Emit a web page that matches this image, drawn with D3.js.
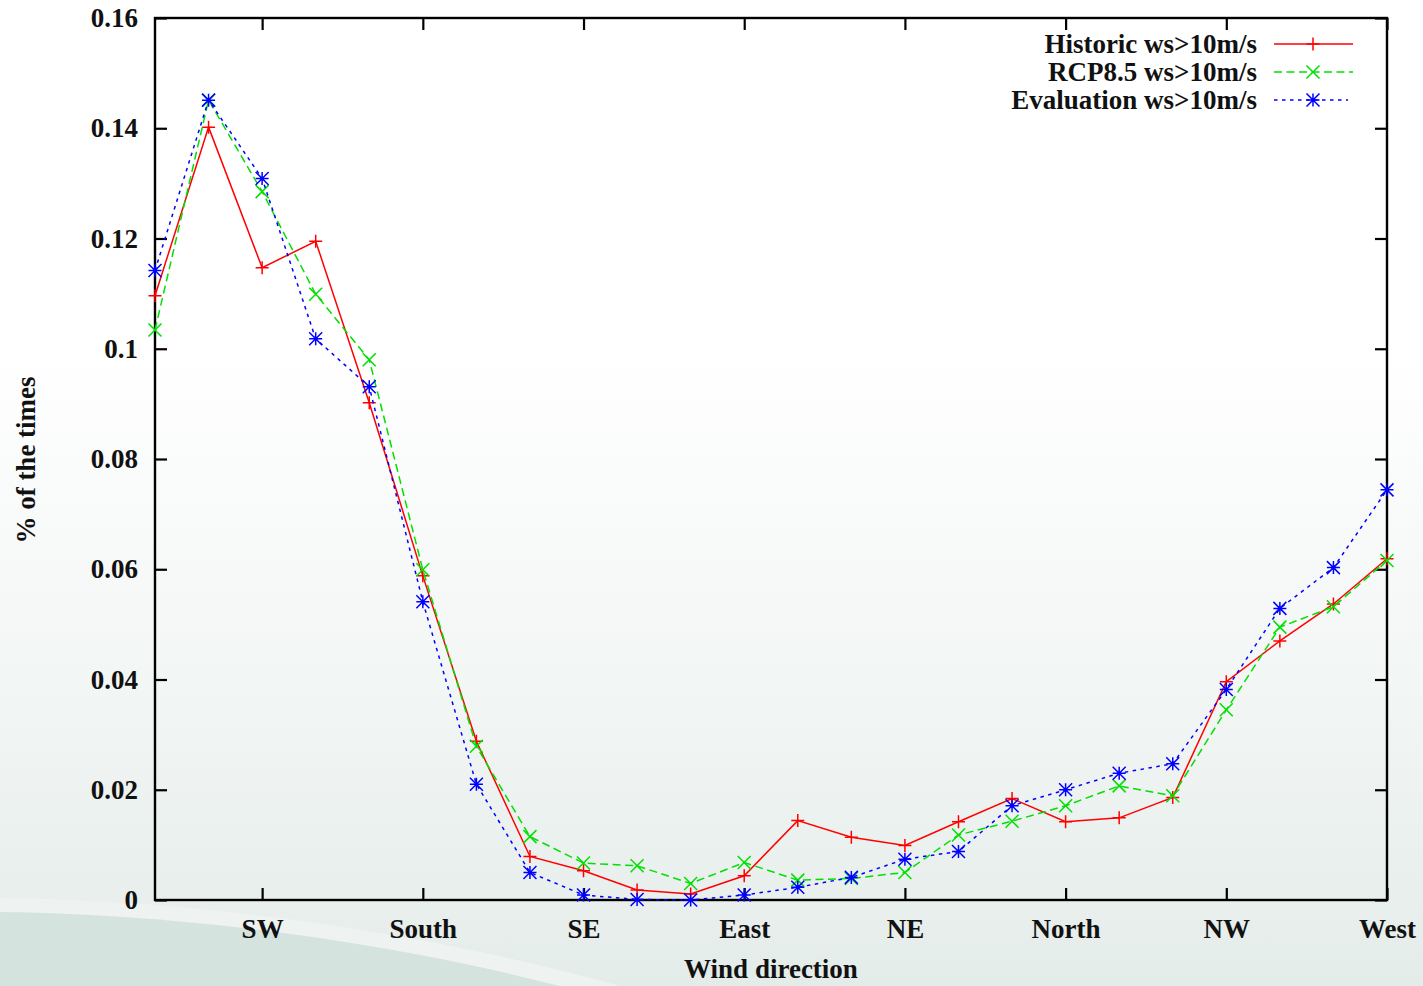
<!DOCTYPE html>
<html>
<head>
<meta charset="utf-8">
<script src="https://cdn.jsdelivr.net/npm/d3@7"></script>
<style>
  html, body { margin: 0; padding: 0; background: #fff; }
  svg { display: block; }
  text { font-family: "Liberation Serif", "Times New Roman", serif; fill: #111; }
</style>
</head>
<body>
<script>
// Wind direction sectors, one point every 15 degrees
const sectorIndex = d3.range(24);
const tickPositions = [2, 5, 8, 11, 14, 17, 20, 23];
const tickLabels = ["SW", "South", "SE", "East", "NE", "North", "NW", "West"];
const yTicks = [0, 0.02, 0.04, 0.06, 0.08, 0.1, 0.12, 0.14, 0.16];
const yTickLabels = ["0", "0.02", "0.04", "0.06", "0.08", "0.1", "0.12", "0.14", "0.16"];

const historic = [0.1096, 0.1402, 0.1147, 0.1195, 0.0902, 0.0588, 0.0288, 0.0079,
  0.0053, 0.0018, 0.0011, 0.0044, 0.0144, 0.0114, 0.0099, 0.0142,
  0.0184, 0.0142, 0.0149, 0.0186, 0.0396, 0.0470, 0.0537, 0.0619];
const rcp85 = [0.1034, 0.1451, 0.1285, 0.1099, 0.0980, 0.0599, 0.0279, 0.0115,
  0.0067, 0.0062, 0.0030, 0.0068, 0.0036, 0.0039, 0.0050, 0.0118,
  0.0143, 0.0171, 0.0207, 0.0189, 0.0345, 0.0495, 0.0532, 0.0616];
const evaluation = [0.1142, 0.1451, 0.1309, 0.1018, 0.0931, 0.0541, 0.0210, 0.0050,
  0.0009, 0.0001, 0.0000, 0.0009, 0.0023, 0.0041, 0.0074, 0.0088,
  0.0171, 0.0200, 0.0230, 0.0247, 0.0382, 0.0529, 0.0603, 0.0744];

const seriesNames = ["Historic ws>10m/s", "RCP8.5 ws>10m/s", "Evaluation ws>10m/s"];
const seriesColors = ["#ff0000", "#00e000", "#0000ff"];

const W = 1423, H = 986;
const margin = { left: 155, right: W - 1387, top: 18, bottom: H - 900 };
const fontSize = "27px";

const svg = d3.select("body").append("svg").attr("width", W).attr("height", H);

// background: white fading to pale grey-green, with a darker sweep at the lower left
const defs = svg.append("defs");
const grad = defs.append("linearGradient").attr("id", "bg").attr("x1", 0).attr("y1", 0).attr("x2", 0).attr("y2", 1);
grad.append("stop").attr("offset", 0).attr("stop-color", "#ffffff");
grad.append("stop").attr("offset", 0.35).attr("stop-color", "#ffffff");
grad.append("stop").attr("offset", 0.7).attr("stop-color", "#f2f6f4");
grad.append("stop").attr("offset", 1).attr("stop-color", "#e4ece9");
svg.append("rect").attr("width", W).attr("height", H).attr("fill", "url(#bg)");
svg.append("path")
  .attr("d", "M0,898 C180,900 400,925 620,986 L0,986 Z")
  .attr("fill", "#eef3f1");
svg.append("path")
  .attr("d", "M0,912 C160,914 360,935 560,986 L0,986 Z")
  .attr("fill", "#d5e3de");

const x = d3.scaleLinear().domain([0, 23]).range([margin.left, W - margin.right]);
const y = d3.scaleLinear().domain([0, 0.16]).range([H - margin.bottom, margin.top]);

const x0 = x.range()[0], x1 = x.range()[1], y0 = y.range()[0], y1 = y.range()[1];
const tickLen = 12;

// axes drawn with d3 axis generators, ticks pointing inward
const fmt = v => yTickLabels[yTicks.indexOf(v)];
const xLab = v => tickLabels[tickPositions.indexOf(v)];

const axisStyle = g => {
  g.select(".domain").remove();
  g.selectAll(".tick line").attr("stroke", "#000").attr("stroke-width", 2.2);
  g.selectAll(".tick text").style("font-size", fontSize).style("font-weight", "bold")
    .style("font-family", "'Liberation Serif', serif").attr("fill", "#111");
};

svg.append("g").attr("transform", `translate(0,${y0})`)
  .call(d3.axisBottom(x).tickValues(tickPositions).tickFormat(xLab).tickSizeInner(-tickLen).tickPadding(19))
  .call(axisStyle);
svg.append("g").attr("transform", `translate(0,${y1})`)
  .call(d3.axisTop(x).tickValues(tickPositions).tickFormat("").tickSizeInner(-tickLen))
  .call(axisStyle);
svg.append("g").attr("transform", `translate(${x0},0)`)
  .call(d3.axisLeft(y).tickValues(yTicks).tickFormat(fmt).tickSizeInner(-tickLen).tickPadding(17))
  .call(axisStyle);
svg.append("g").attr("transform", `translate(${x1},0)`)
  .call(d3.axisRight(y).tickValues(yTicks).tickFormat("").tickSizeInner(-tickLen))
  .call(axisStyle);

// plot frame
svg.append("rect")
  .attr("x", x0).attr("y", y1).attr("width", x1 - x0).attr("height", y0 - y1)
  .attr("fill", "none").attr("stroke", "#000").attr("stroke-width", 2.4);

// axis titles
svg.append("text")
  .attr("x", 771).attr("y", 978).attr("text-anchor", "middle")
  .style("font-size", fontSize).style("font-weight", "bold")
  .text("Wind direction");
svg.append("text")
  .attr("transform", "translate(35,460) rotate(-90)").attr("text-anchor", "middle")
  .style("font-size", fontSize).style("font-weight", "bold")
  .text("% of the times");

// marker shapes: plus, cross, asterisk
const ms = 6.5;
const markerPath = [
  `M${-ms},0H${ms}M0,${-ms}V${ms}`,
  `M${-ms},${-ms}L${ms},${ms}M${-ms},${ms}L${ms},${-ms}`,
  `M${-ms},0H${ms}M0,${-ms}V${ms}M${-ms},${-ms}L${ms},${ms}M${-ms},${ms}L${ms},${-ms}`
];
const dashes = [null, "8,4.5", "3.5,4.5"];
const allSeries = [historic, rcp85, evaluation];

const line = d3.line().x((d, i) => x(sectorIndex[i])).y(d => y(d));

allSeries.forEach((vals, s) => {
  const g = svg.append("g");
  g.append("path").datum(vals)
    .attr("d", line)
    .attr("fill", "none")
    .attr("stroke", seriesColors[s])
    .attr("stroke-width", 1.5)
    .attr("stroke-dasharray", dashes[s]);
  g.selectAll("path.m").data(vals).join("path")
    .attr("class", "m")
    .attr("transform", (d, i) => `translate(${x(sectorIndex[i])},${y(d)})`)
    .attr("d", markerPath[s])
    .attr("fill", "none")
    .attr("stroke", seriesColors[s])
    .attr("stroke-width", 1.5);
});

// legend
const legY = [44, 72, 100];
const legX0 = 1274, legX1 = [1353, 1353, 1348];
seriesNames.forEach((name, s) => {
  svg.append("text")
    .attr("x", 1257).attr("y", legY[s] + 9).attr("text-anchor", "end")
    .style("font-size", fontSize).style("font-weight", "bold")
    .text(name);
  svg.append("line")
    .attr("x1", legX0).attr("x2", legX1[s]).attr("y1", legY[s]).attr("y2", legY[s])
    .attr("stroke", seriesColors[s]).attr("stroke-width", 1.5)
    .attr("stroke-dasharray", dashes[s]);
  svg.append("path")
    .attr("transform", `translate(1313,${legY[s]})`)
    .attr("d", markerPath[s])
    .attr("fill", "none").attr("stroke", seriesColors[s]).attr("stroke-width", 1.5);
});
</script>
</body>
</html>
